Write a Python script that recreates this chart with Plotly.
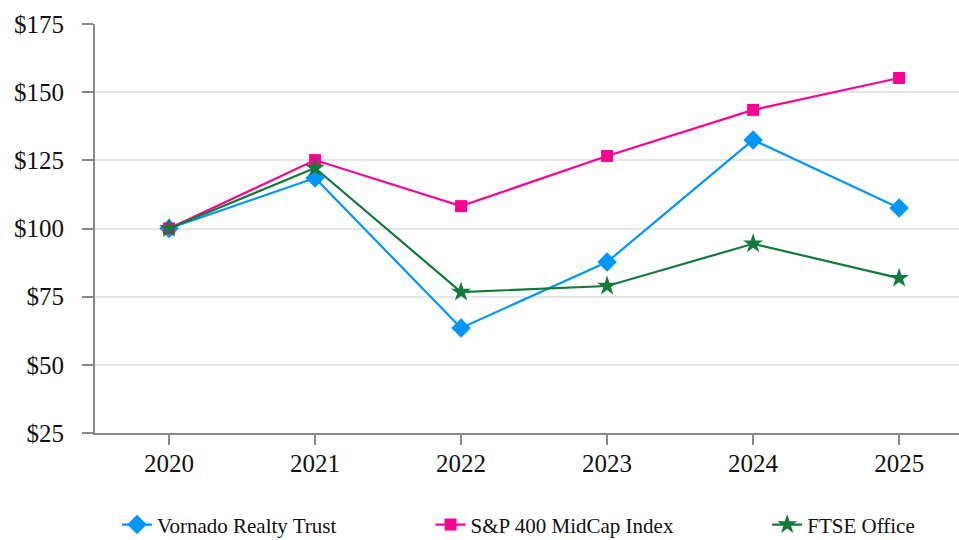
import plotly.graph_objects as go

years = ["2020", "2021", "2022", "2023", "2024", "2025"]
vornado = [100, 118.5, 63.5, 87.7, 132.5, 107.5]
sp400 = [100, 125.1, 108.2, 126.6, 143.5, 155.2]
ftse_office = [100, 122.2, 76.7, 78.9, 94.4, 81.8]

y_ticks = [25, 50, 75, 100, 125, 150, 175]

x_pos = list(range(len(years)))
FONT = "Liberation Serif, Times New Roman, serif"

fig = go.Figure()
fig.add_trace(go.Scatter(
    x=x_pos, y=vornado, name="Vornado Realty Trust", mode="lines+markers",
    line=dict(color="#0096FF", width=2.2),
    marker=dict(symbol="diamond", size=15, color="#0096FF"),
    legend="legend",
))
fig.add_trace(go.Scatter(
    x=x_pos, y=sp400, name="S&P 400 MidCap Index", mode="lines+markers",
    line=dict(color="#FF0090", width=2.2),
    marker=dict(symbol="square", size=12, color="#FF0090"),
    legend="legend2",
))
fig.add_trace(go.Scatter(
    x=x_pos, y=ftse_office, name="FTSE Office", mode="lines+markers",
    line=dict(color="#127A3A", width=2.2),
    marker=dict(symbol="star", size=15, color="#127A3A"),
    legend="legend3",
))

def leg(xpos):
    return dict(
        orientation="h", x=xpos, xanchor="left", xref="container",
        y=0.028, yanchor="middle", yref="container",
        font=dict(family=FONT, size=21, color="#111111"),
        bgcolor="rgba(0,0,0,0)",
    )

fig.update_layout(
    width=959, height=540,
    margin=dict(l=95, r=0, t=24, b=107),
    paper_bgcolor="white", plot_bgcolor="white",
    font=dict(family=FONT, color="#111111"),
    showlegend=True,
    legend=leg(0.122),
    legend2=leg(0.449),
    legend3=leg(0.800),
    xaxis=dict(
        range=[-0.507, 5.41],
        tickmode="array", tickvals=x_pos, ticktext=years,
        showgrid=False, zeroline=False,
        showline=True, linecolor="#888888", linewidth=2,
        ticks="outside", ticklen=10, tickwidth=2, tickcolor="#888888",
        tickfont=dict(family=FONT, size=25, color="#111111"),
        ticklabelstandoff=-3,
        automargin=False,
    ),
    yaxis=dict(
        range=[25, 175],
        tickmode="array", tickvals=y_ticks,
        ticktext=["$" + str(v) for v in y_ticks],
        showgrid=True, gridcolor="#E6E6E6", gridwidth=2,
        zeroline=False,
        showline=True, linecolor="#888888", linewidth=2,
        ticks="outside", ticklen=11, tickwidth=2, tickcolor="#888888",
        tickfont=dict(family=FONT, size=25, color="#111111"),
        ticklabelstandoff=13,
        automargin=False,
    ),
)

fig.write_html(
    "out.html",
    config={"displayModeBar": False},
    post_script="document.body.style.margin='0';document.body.style.overflow='hidden';",
)
